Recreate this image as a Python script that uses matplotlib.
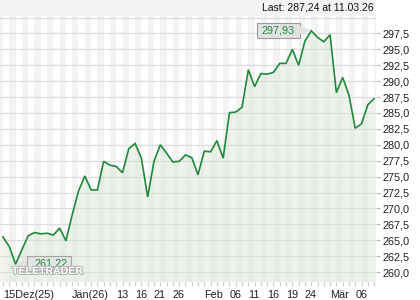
import matplotlib
matplotlib.use("Agg")
import matplotlib.pyplot as plt
import matplotlib.patheffects as pe
from matplotlib.patches import Rectangle, Polygon

plt.rcParams['font.family'] = ['Liberation Sans', 'DejaVu Sans']

# ---- data ----
dates = (["15.12.25", "16.12.25", "17.12.25", "18.12.25", "19.12.25", "22.12.25", "23.12.25",
          "24.12.25", "29.12.25", "30.12.25", "31.12.25"] +
         ["%02d.01.26" % d for d in [2, 5, 6, 7, 8, 9, 12, 13, 14, 15, 16, 19, 20, 21, 22, 23, 26, 27, 28, 29, 30]] +
         ["%02d.02.26" % d for d in [2, 3, 4, 5, 6, 9, 10, 11, 12, 13, 16, 17, 18, 19, 20, 23, 24, 25, 26, 27]] +
         ["%02d.03.26" % d for d in [2, 3, 4, 5, 6, 9, 10, 11]])
prices = [265.5, 264.0, 261.22, 263.5, 265.7, 266.2, 266.0, 266.1, 265.8, 266.9,
          264.9, 269.0, 272.7, 275.1, 272.9, 272.9, 277.4, 276.8, 276.6, 275.6,
          279.4, 280.2, 277.9, 271.8, 277.4, 280.0, 278.7, 277.3, 277.4, 278.4,
          278.0, 275.3, 279.0, 278.9, 280.65, 277.9, 285.05, 285.15, 285.9, 291.8,
          289.15, 291.2, 291.1, 291.4, 292.8, 292.8, 295.0, 292.5, 296.3, 297.93,
          296.9, 296.2, 297.3, 288.2, 290.6, 287.8, 282.6, 283.3, 286.3, 287.24]
xtick_idx = [0, 11, 18, 21, 24, 27, 32, 36, 39, 42, 45, 48, 52, 56]
xtick_lbl = ["15Dez(25)", "Jän(26)", "13", "16", "21", "26", "Feb", "06", "11", "16", "19", "24", "Mär", "06"]
yticks = [260.0, 262.5, 265.0, 267.5, 270.0, 272.5, 275.0, 277.5, 280.0, 282.5, 285.0, 287.5, 290.0, 292.5, 295.0, 297.5]
last_text = "Last: 287,24 at 11.03.26"
watermark = "TELETRADER"

W, H = 420, 300
fig = plt.figure(figsize=(4.2, 3.0), dpi=100)
fig.patch.set_facecolor("white")

# top band
fig.patches.append(Rectangle((0, (H - 16) / H), 376 / W, 16 / H, transform=fig.transFigure,
                             facecolor="#f4f4f4", edgecolor="none", zorder=0))

ax = fig.add_axes([0, (H - 282) / H, 376 / W, (282 - 16) / H])
ax.set_facecolor("white")
n = len(prices)
xs = list(range(n))
xl = (-0.48, 59.3)
ax.set_xlim(*xl)
ax.set_ylim(258.43, 300.25)

# vertical stripes
for i in range(-1, n):
    if i % 2 != 0:
        a = max(i, xl[0])
        b = min(i + 1, xl[1])
        ax.axvspan(a, b, color="#f3f3f3", lw=0, zorder=0)

for v in yticks + [300.0]:
    ax.axhline(v, color="#dcdcdc", lw=0.9, zorder=1)

ax.fill_between(xs, prices, 258.43, color="#d8e6d4", alpha=0.45, lw=0, zorder=2)
ax.plot(xs, prices, color="#1f8a3b", lw=1.2, zorder=3, solid_joinstyle="miter")

for s in ax.spines.values():
    s.set_visible(False)

ax.yaxis.tick_right()
ax.set_yticks(yticks)
ax.set_yticklabels([("%.1f" % v).replace(".", ",") for v in yticks], fontsize=7.8, color="#222222")
ax.tick_params(axis="y", length=3, width=0.8, color="#bbbbbb", pad=2)

ax.set_xticks(xs)
lbls = [""] * n
for i, l in zip(xtick_idx, xtick_lbl):
    lbls[i] = l
ax.set_xticklabels(lbls, fontsize=7.8, color="#222222", ha="left")
ax.tick_params(axis="x", length=3, width=0.8, color="#cccccc", pad=3)
for t in ax.get_xticklabels():
    t.set_horizontalalignment("left")

imax = prices.index(max(prices))
imin = prices.index(min(prices))

def px2data(x, y):
    return ax.transData.inverted().transform(fig.transFigure.transform((x / W, (H - y) / H)))

fig.canvas.draw()

# watermark (behind the min box, like the reference)
fig.text(12 / W, (H - 271) / H, watermark, fontsize=7.6, fontweight="bold", color="white",
         ha="left", va="center", zorder=1,
         path_effects=[pe.withStroke(linewidth=1.4, foreground="#b0b0b0")])

# max box
bx0, by0, bx1, by1 = 257, 23, 300, 38
p0 = px2data(bx0, by1); p1 = px2data(bx1, by0)
ax.add_patch(Rectangle((p0[0], p0[1]), p1[0] - p0[0], p1[1] - p0[1], facecolor="#e2e2e2",
                       edgecolor="#9a9a9a", lw=0.8, zorder=5))
tri = [px2data(300, 26), px2data(300, 34), (imax, prices[imax])]
ax.add_patch(Polygon(tri, closed=True, facecolor="#e2e2e2", edgecolor="none", zorder=5))
ax.text((p0[0] + p1[0]) / 2, (p0[1] + p1[1]) / 2, ("%.2f" % prices[imax]).replace(".", ","),
        color="#1f8a3b", fontsize=7.8, ha="center", va="center", zorder=6)

# min box
bx0, by0, bx1, by1 = 27, 256, 71, 271
q0 = px2data(bx0, by1); q1 = px2data(bx1, by0)
ax.add_patch(Rectangle((q0[0], q0[1]), q1[0] - q0[0], q1[1] - q0[1], facecolor="#e2e2e2",
                       edgecolor="#9a9a9a", lw=0.8, zorder=5, alpha=0.85))
tri = [px2data(27, 259), px2data(27, 267), (imin, prices[imin])]
ax.add_patch(Polygon(tri, closed=True, facecolor="#e2e2e2", edgecolor="none", zorder=5))
ax.text((q0[0] + q1[0]) / 2 + 0.3, (q0[1] + q1[1]) / 2, ("%.2f" % prices[imin]).replace(".", ","),
        color="#1f8a3b", fontsize=7.8, ha="center", va="center", zorder=6)

fig.text(374 / W, (H - 8) / H, last_text, fontsize=7.5, color="#111111", ha="right", va="center")

fig.savefig("out.png", dpi=100)
